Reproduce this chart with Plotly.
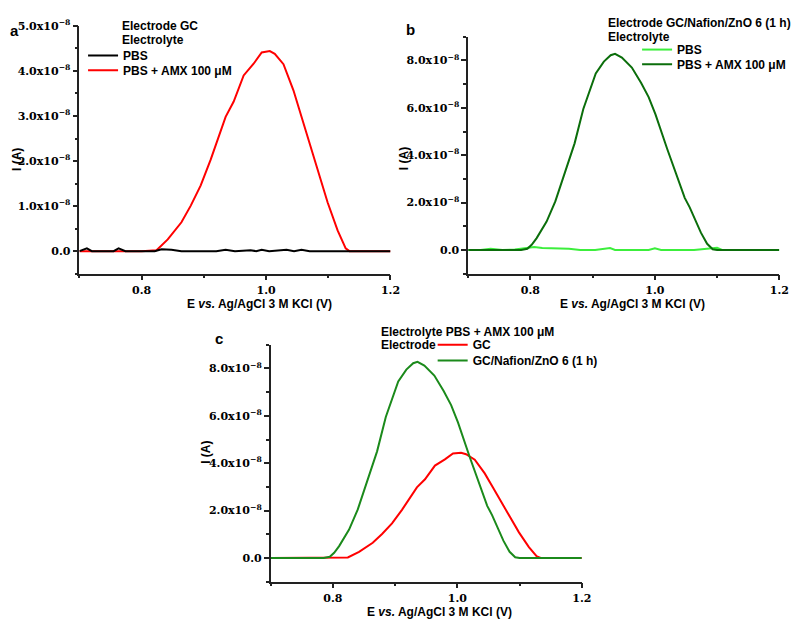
import plotly.graph_objects as go

# values, current in units of 1e-8 A
E_gc = [0.700, 0.800, 0.824, 0.842, 0.864, 0.879, 0.895, 0.911, 0.935, 0.948,
        0.964, 0.980, 0.993, 1.006, 1.014, 1.028, 1.044, 1.057, 1.070, 1.086,
        1.099, 1.115, 1.128, 1.134, 1.200]
I_gc = [0.0, 0.0, 0.02, 0.26, 0.64, 1.01, 1.46, 2.03, 2.98, 3.32,
        3.90, 4.16, 4.41, 4.44, 4.38, 4.15, 3.57, 2.98, 2.40, 1.67,
        1.08, 0.46, 0.06, 0.0, 0.0]

E_gc_pbs = [0.700, 0.705, 0.712, 0.720, 0.747, 0.755, 0.763, 0.774, 0.800, 0.821,
            0.832, 0.848, 0.864, 0.920, 0.935, 0.950, 0.975, 0.984, 0.993, 1.005,
            1.033, 1.045, 1.057, 1.070, 1.200]
I_gc_pbs = [0.0, 0.03, 0.06, 0.0, 0.01, 0.0, 0.06, 0.0, 0.0, 0.0,
            0.04, 0.03, 0.0, 0.0, 0.03, 0.0, 0.02, 0.0, 0.03, 0.0,
            0.03, 0.0, 0.03, 0.0, 0.0]

E_zno = [0.700, 0.785, 0.795, 0.802, 0.810, 0.826, 0.840, 0.857, 0.871, 0.885,
         0.905, 0.918, 0.929, 0.936, 0.947, 0.963, 0.978, 0.990, 1.001, 1.020,
         1.037, 1.048, 1.056, 1.074, 1.084, 1.093, 1.100, 1.200]
I_zno = [0.0, 0.0, 0.05, 0.22, 0.50, 1.20, 2.05, 3.40, 4.50, 5.95,
         7.45, 7.95, 8.22, 8.28, 8.12, 7.70, 7.05, 6.45, 5.72, 4.25,
         3.05, 2.20, 1.80, 0.73, 0.26, 0.03, 0.0, 0.0]

E_zno_pbs = [0.700, 0.720, 0.736, 0.755, 0.775, 0.796, 0.806, 0.819, 0.840, 0.862,
             0.880, 0.904, 0.928, 0.936, 0.957, 0.990, 1.000, 1.010, 1.063, 1.100,
             1.108, 1.200]
I_zno_pbs = [0.0, 0.0, 0.05, 0.0, 0.02, 0.07, 0.12, 0.08, 0.06, 0.05,
             0.0, 0.0, 0.08, 0.0, 0.0, 0.0, 0.07, 0.0, 0.0, 0.09,
             0.0, 0.0]

x_ticks = [0.8, 1.0, 1.2]
x_labels = ["0.8", "1.0", "1.2"]
ya_ticks = [0, 1, 2, 3, 4, 5]
ya_labels = ["0.0", "1.0x10<sup>−8</sup>", "2.0x10<sup>−8</sup>", "3.0x10<sup>−8</sup>",
             "4.0x10<sup>−8</sup>", "5.0x10<sup>−8</sup>"]
yb_ticks = [0, 2, 4, 6, 8]
yb_labels = ["0.0", "2.0x10<sup>−8</sup>", "4.0x10<sup>−8</sup>", "6.0x10<sup>−8</sup>",
             "8.0x10<sup>−8</sup>"]

SCALE = 1e-8
W, H = 805, 624
# the page body margin pushes the figure 8 px right and down
BX, BY = 8, 8
SANS = "Liberation Sans"
SERIF = "DejaVu Serif"

RED = "#ff0000"
BLACK = "#000000"
LIME = "#3cee3c"
DKGREEN = "#0b6e0b"
GREEN = "#1b8a1b"


def sc(vals):
    return [v * SCALE for v in vals]


def px(x):
    return (x - BX) / W


def py(y):
    return 1 - (y - BY) / H


fig = go.Figure()

# panel a
fig.add_trace(go.Scatter(x=E_gc, y=sc(I_gc), mode="lines", name="PBS + AMX 100 μM",
                         line=dict(color=RED, width=2), xaxis="x", yaxis="y", legend="legend2"))
fig.add_trace(go.Scatter(x=E_gc_pbs, y=sc(I_gc_pbs), mode="lines", name="PBS",
                         line=dict(color=BLACK, width=2), xaxis="x", yaxis="y", legend="legend"))
# panel b
fig.add_trace(go.Scatter(x=E_zno_pbs, y=sc(I_zno_pbs), mode="lines", name="PBS",
                         line=dict(color=LIME, width=2), xaxis="x2", yaxis="y2", legend="legend3"))
fig.add_trace(go.Scatter(x=E_zno, y=sc(I_zno), mode="lines", name="PBS + AMX 100 μM",
                         line=dict(color=DKGREEN, width=2), xaxis="x2", yaxis="y2", legend="legend4"))
# panel c
fig.add_trace(go.Scatter(x=E_gc, y=sc(I_gc), mode="lines", name="GC",
                         line=dict(color=RED, width=2), xaxis="x3", yaxis="y3", legend="legend5"))
fig.add_trace(go.Scatter(x=E_zno, y=sc(I_zno), mode="lines", name="GC/Nafion/ZnO 6 (1 h)",
                         line=dict(color=GREEN, width=2), xaxis="x3", yaxis="y3", legend="legend6"))

tickfont = dict(family=SERIF, size=11, color="black", weight="bold")


def xax(x0, x1, anchor):
    return dict(domain=[px(x0), px(x1)], range=[0.7, 1.2], anchor=anchor,
                tickmode="array", tickvals=x_ticks, ticktext=x_labels,
                showline=True, linecolor="#222", linewidth=1.5,
                ticks="outside", ticklen=5, tickwidth=1.5, tickcolor="#222",
                minor=dict(ticks="outside", ticklen=3, tickwidth=1.5, tickcolor="#222",
                           dtick=0.1, tick0=0.7),
                showgrid=False, zeroline=False, tickfont=tickfont, fixedrange=True)


def yax(y0, y1, anchor, rng, tv, tt, mdt):
    return dict(domain=[py(y1), py(y0)], range=[rng[0] * SCALE, rng[1] * SCALE], anchor=anchor,
                tickmode="array", tickvals=sc(tv), ticktext=tt,
                showline=True, linecolor="#222", linewidth=1.5,
                ticks="outside", ticklen=5, tickwidth=1.5, tickcolor="#222",
                minor=dict(ticks="outside", ticklen=3, tickwidth=1.5, tickcolor="#222",
                           dtick=mdt * SCALE, tick0=0),
                showgrid=False, zeroline=False, tickfont=tickfont, fixedrange=True)


def leg(x, y):
    return dict(x=px(x), y=py(y), xanchor="left", yanchor="middle",
                bgcolor="rgba(0,0,0,0)", borderwidth=0, itemwidth=30,
                font=dict(family=SANS, size=12, color="black", weight="bold"),
                itemclick=False, itemdoubleclick=False)


fig.update_layout(
    width=W, height=H,
    margin=dict(l=0, r=0, t=0, b=0),
    paper_bgcolor="white", plot_bgcolor="white",
    showlegend=True,
    xaxis=xax(80.3, 395.3, "y"),
    yaxis=yax(18, 269, "x", [-0.5, 5.0], ya_ticks, ya_labels, 0.5),
    xaxis2=xax(474, 789, "y2"),
    yaxis2=yax(29, 269, "x2", [-1, 9], yb_ticks, yb_labels, 1),
    xaxis3=xax(274, 589, "y3"),
    yaxis3=yax(341, 581, "x3", [-1, 9], yb_ticks, yb_labels, 1),
    legend=leg(84, 48),
    legend2=leg(84, 63),
    legend3=leg(645, 42),
    legend4=leg(645, 57),
    legend5=leg(438, 341),
    legend6=leg(438, 357),
)

txt = dict(family=SANS, size=12, color="black", weight="bold")
notes = [
    ("Electrode GC", 121, 18),
    ("Electrolyte", 121, 32),
    ("Electrode GC/Nafion/ZnO 6 (1 h)", 614, 15),
    ("Electrolyte", 614, 29),
    ("Electrolyte PBS + AMX 100 μM", 384, 328),
    ("Electrode", 384, 341),
]
for t, x, y in notes:
    fig.add_annotation(text=t, x=px(x), y=py(y), xref="paper", yref="paper",
                       xanchor="left", yanchor="middle", showarrow=False, font=txt)

for t, x, y in [("a", 15, 23), ("b", 416, 22), ("c", 222, 335)]:
    fig.add_annotation(text=t, x=px(x), y=py(y), xref="paper", yref="paper",
                       xanchor="center", yanchor="middle", showarrow=False,
                       font=dict(family=SANS, size=15, color="black", weight="bold"))

xtitle = "E <i>vs.</i> Ag/AgCl 3 M KCl (V)"
for x, y in [(263, 300), (640, 300), (445, 612)]:
    fig.add_annotation(text=xtitle, x=px(x), y=py(y), xref="paper", yref="paper",
                       xanchor="center", yanchor="middle", showarrow=False, font=txt)

for x, y in [(17, 153), (409, 153), (209, 450)]:
    fig.add_annotation(text="I (A)", x=px(x), y=py(y), xref="paper", yref="paper",
                       xanchor="center", yanchor="middle", showarrow=False, font=txt,
                       textangle=-90)

fig.write_html("out.html")
